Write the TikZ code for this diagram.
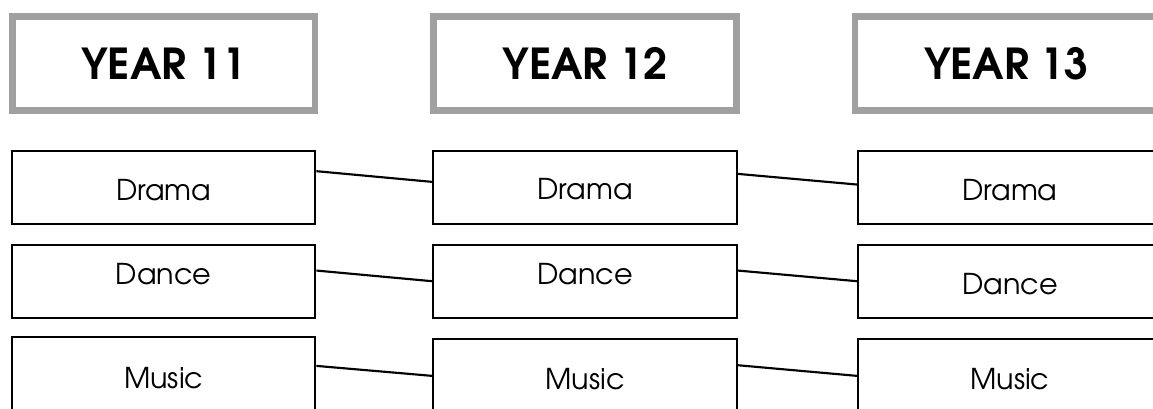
\documentclass[tikz,border=0pt]{standalone}
\usepackage{fontspec}
\setmainfont{TeX Gyre Adventor}
\usepackage{tikz}
\usetikzlibrary{positioning}

\definecolor{headgray}{HTML}{A0A0A0}

\begin{document}
\begin{tikzpicture}[x=0.75pt, y=-0.75pt, align=center,
    yearbox/.style={draw=headgray, line width=5pt, minimum width=227pt, minimum height=70.5pt, font=\fontsize{32}{38}\selectfont\bfseries},
    subjectbox/.style={draw, line width=1.5pt, minimum width=227.5pt, minimum height=55pt, font=\fontsize{21.5}{26}\selectfont},
    link/.style={line width=1.6pt}]
        \useasboundingbox (0,0) rectangle (1153,409);

        \node [yearbox] (head11) at (163.75,63.5) {YEAR 11};
        \node [yearbox, right=84pt of head11] (head12) {YEAR 12};
        \node [yearbox, right=84pt of head12] (head13) {YEAR 13};

        % text baselines are set by hand, as in the original
        \node [subjectbox, below=26.8pt of head11] (drama11) {\raisebox{-9.9pt}[0pt][0pt]{Drama}};
        \node [subjectbox, below=14pt of drama11] (dance11) {\raisebox{-2.4pt}[0pt][0pt]{Dance}};
        \node [subjectbox, below=13pt of dance11] (music11) {\raisebox{-10.7pt}[0pt][0pt]{Music}};

        \node [subjectbox, below=26.8pt of head12] (drama12) {\raisebox{-9.5pt}[0pt][0pt]{Drama}};
        \node [subjectbox, below=14pt of drama12] (dance12) {\raisebox{-2.6pt}[0pt][0pt]{Dance}};
        \node [subjectbox, below=14.5pt of dance12] (music12) {\raisebox{-10.3pt}[0pt][0pt]{Music}};

        \node [subjectbox, below=26.8pt of head13, xshift=2.6pt] (drama13) {\raisebox{-9.6pt}[0pt][0pt]{Drama}};
        \node [subjectbox, below=14pt of drama13] (dance13) {\raisebox{-10.1pt}[0pt][0pt]{Dance}};
        \node [subjectbox, below=14.5pt of dance13] (music13) {\raisebox{-10.2pt}[0pt][0pt]{Music}};

        \draw[link] (drama11.6) -- (drama12.178);
        \draw[link] (dance11.4) -- (dance12.180);
        \draw[link] (music11.3) -- (music12.180);

        \draw[link] (drama12.5) -- (drama13.179);
        \draw[link] (dance12.4) -- (dance13.180);
        \draw[link] (music12.4) -- (music13.180);
    \end{tikzpicture}
\end{document}
